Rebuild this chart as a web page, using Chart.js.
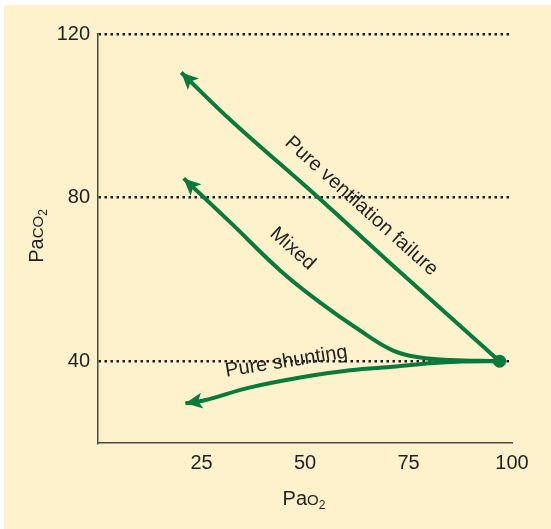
<!DOCTYPE html>
<html>
<head>
<title>PaO2 / PaCO2</title>
<style>
  body, html { margin: 0; padding: 0; background: #fff; }
  #wrap { position: absolute; left: 0; top: 0; width: 551px; height: 529px; }
</style>
</head>
<body>
<div id="wrap"><canvas id="chart" width="551" height="529"></canvas></div>
<script src="https://cdn.jsdelivr.net/npm/chart.js"></script>
<script>
// values (x = PaO2, y = PaCO2)
const xTicks = [25, 50, 75, 100];
const yTicks = [40, 80, 120];

// each curve starts at the arrow tip and ends at the normal point
const ventX = [20.1, 32.4, 52.8, 69.8, 97];
const ventY = [110.6, 98.6, 80.4, 64.7, 40];

const mixedX = [20.7, 31.9, 44.0, 53.6, 63.3, 71.3, 77.8, 85, 97];
const mixedY = [84.7, 74.0, 62.2, 54.4, 47.5, 42.6, 40.9, 40.3, 40];

const shuntX = [21.1, 25.5, 36.8, 48.8, 60.9, 72, 80.2, 88, 97];
const shuntY = [29.7, 30.4, 33.6, 36.0, 37.8, 38.7, 39.5, 39.9, 40];

const normalX = [97];
const normalY = [40];

const curveNames = ['Pure ventilation failure', 'Mixed', 'Pure shunting'];

const green = '#0a7a3c';
const ink = '#231f20';
const fontFamily = '"Liberation Sans", Arial, Helvetica, sans-serif';

function pts(xs, ys) {
    return xs.map((x, i) => ({x: x, y: ys[i]}));
}

function curve(label, xs, ys) {
    return {
        label: label,
        data: pts(xs, ys),
        showLine: true,
        borderColor: green,
        borderWidth: 4,
        pointRadius: 0,
        tension: 0.4,
        arrow: true
    };
}

// cream panel with a thin white margin top/left
const panel = {
    id: 'panel',
    beforeDraw(chart) {
        const ctx = chart.ctx;
        ctx.save();
        ctx.fillStyle = '#ffffff';
        ctx.fillRect(0, 0, chart.width, chart.height);
        ctx.fillStyle = '#fef2cc';
        ctx.fillRect(4, 5, chart.width - 4, chart.height - 5);
        ctx.restore();
    }
};

const arrows = {
    id: 'arrows',
    afterDatasetsDraw(chart) {
        const ctx = chart.ctx;
        chart.data.datasets.forEach((ds, i) => {
            if (!ds.arrow) return;
            const p = chart.getDatasetMeta(i).data;
            const tip = p[0], from = p[1];
            const a = Math.atan2(tip.y - from.y, tip.x - from.x);
            ctx.save();
            ctx.translate(tip.x, tip.y);
            ctx.rotate(a);
            ctx.beginPath();
            ctx.moveTo(0, 0);
            ctx.lineTo(-17, -8);
            ctx.lineTo(-13, 0);
            ctx.lineTo(-17, 8);
            ctx.closePath();
            ctx.fillStyle = green;
            ctx.fill();
            ctx.restore();
        });
    }
};

// curve names written along the curves
const notes = [
    {text: curveNames[0], x: 63.6, y: 77.9, angle: 42},
    {text: curveNames[1], x: 47.0, y: 67.5, angle: 42},
    {text: curveNames[2], x: 45.5, y: 39.9, angle: -9}
];

const curveLabels = {
    id: 'curveLabels',
    afterDatasetsDraw(chart) {
        const ctx = chart.ctx;
        const sx = chart.scales.x, sy = chart.scales.y;
        ctx.save();
        ctx.font = '20px ' + fontFamily;
        ctx.fillStyle = ink;
        ctx.textAlign = 'center';
        ctx.textBaseline = 'middle';
        notes.forEach(n => {
            ctx.save();
            ctx.translate(sx.getPixelForValue(n.x), sy.getPixelForValue(n.y));
            ctx.rotate(n.angle * Math.PI / 180);
            ctx.fillText(n.text, 0, 0);
            ctx.restore();
        });
        ctx.restore();
    }
};

// axis titles with small caps + subscript
function subText(ctx, parts) {
    let w = 0;
    parts.forEach(p => {
        ctx.font = p.size + 'px ' + fontFamily;
        p.w = ctx.measureText(p.t).width;
        w += p.w;
    });
    let x = -w / 2;
    parts.forEach(p => {
        ctx.font = p.size + 'px ' + fontFamily;
        ctx.fillText(p.t, x, p.dy);
        x += p.w;
    });
}

const axisTitles = {
    id: 'axisTitles',
    afterDraw(chart) {
        const ctx = chart.ctx;
        const area = chart.chartArea;
        ctx.save();
        ctx.fillStyle = ink;
        ctx.textAlign = 'left';
        ctx.textBaseline = 'alphabetic';

        ctx.save();
        ctx.translate((area.left + area.right) / 2 - 1, 505);
        subText(ctx, [{t: 'Pa', size: 20, dy: 0}, {t: 'O', size: 15, dy: 0}, {t: '2', size: 12, dy: 4}]);
        ctx.restore();

        ctx.save();
        ctx.translate(43, 236);
        ctx.rotate(-Math.PI / 2);
        subText(ctx, [{t: 'Pa', size: 20, dy: 0}, {t: 'CO', size: 15, dy: 0}, {t: '2', size: 12, dy: 4}]);
        ctx.restore();

        ctx.restore();
    }
};

new Chart(document.getElementById('chart'), {
    type: 'scatter',
    data: {
        datasets: [
            curve(curveNames[0], ventX, ventY),
            curve(curveNames[1], mixedX, mixedY),
            curve(curveNames[2], shuntX, shuntY),
            {
                label: 'Normal',
                data: pts(normalX, normalY),
                pointRadius: 6.5,
                pointBackgroundColor: green,
                pointBorderWidth: 0
            }
        ]
    },
    options: {
        responsive: false,
        animation: false,
        events: [],
        layout: { padding: { left: 38, right: 39, top: 34, bottom: 36 } },
        plugins: {
            legend: { display: false },
            tooltip: { enabled: false }
        },
        scales: {
            x: {
                type: 'linear',
                min: 0,
                max: 100,
                afterBuildTicks: s => { s.ticks = xTicks.map(v => ({value: v})); },
                afterFit: s => { s.height = 50; },
                grid: { display: false, drawTicks: false },
                border: { display: true, color: '#4a4a4a', width: 1.5 },
                ticks: { color: ink, padding: 8, maxRotation: 0, font: { size: 20, family: fontFamily } }
            },
            y: {
                type: 'linear',
                min: 20,
                max: 120,
                afterBuildTicks: s => { s.ticks = yTicks.map(v => ({value: v})); },
                afterFit: s => { s.width = 60; },
                grid: { color: '#1e1e1e', lineWidth: 2.5, drawTicks: false },
                border: { display: true, color: '#4a4a4a', width: 1.5, dash: [2.5, 3.5] },
                ticks: { color: ink, padding: 8, font: { size: 20, family: fontFamily } }
            }
        }
    },
    plugins: [panel, arrows, curveLabels, axisTitles]
});
</script>
</body>
</html>
